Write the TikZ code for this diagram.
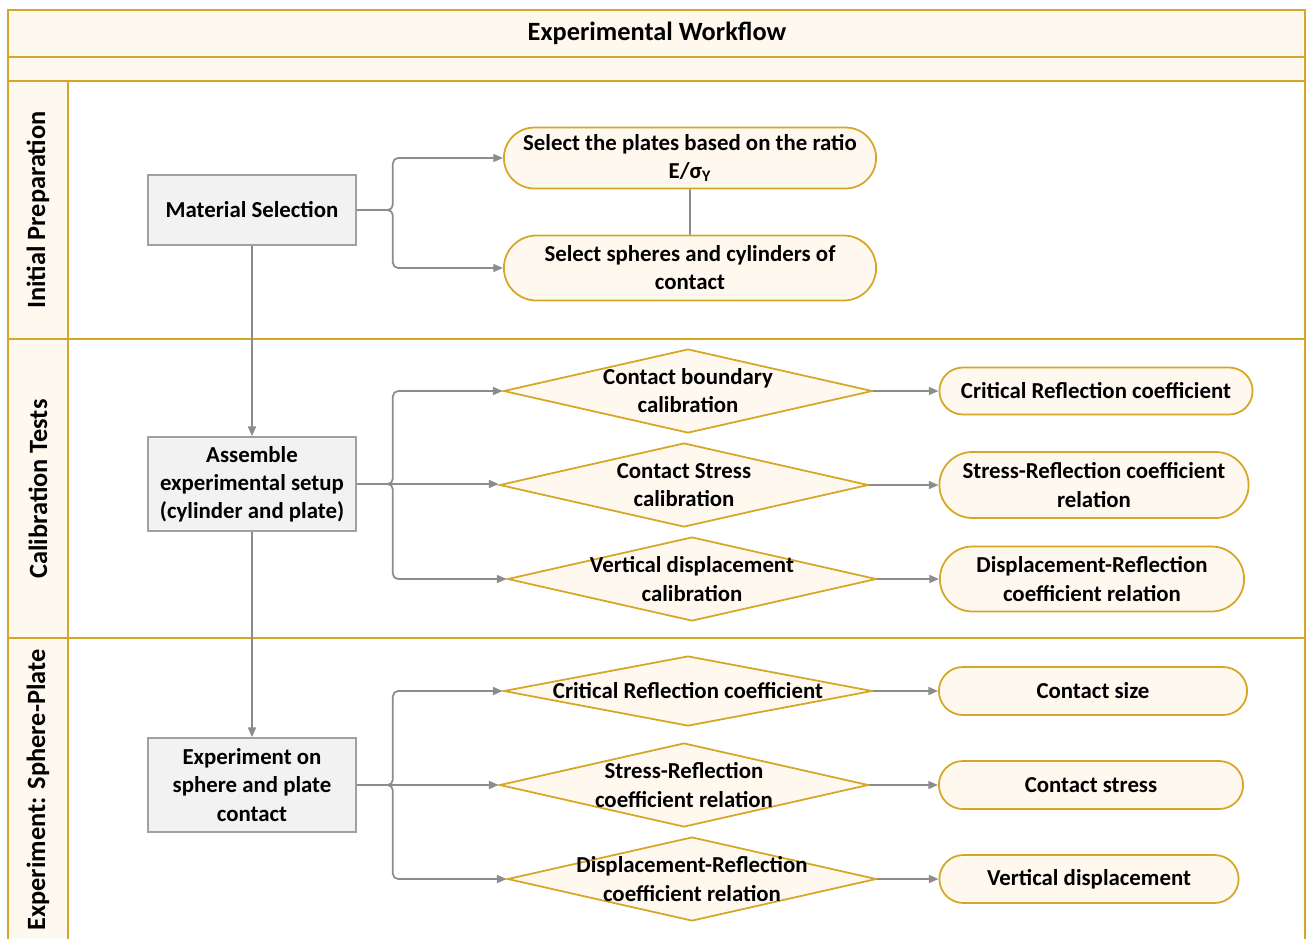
\documentclass[tikz,border=0pt]{standalone}
\usepackage{fontspec}
\setmainfont{Carlito}
\usetikzlibrary{shapes.geometric,shapes.misc,arrows.meta}

\definecolor{lanegold}{RGB}{214,166,38}
\definecolor{lanefill}{RGB}{254,248,239}
\definecolor{boxgray}{RGB}{160,160,160}
\definecolor{boxfill}{RGB}{242,242,242}
\definecolor{linegray}{RGB}{140,140,140}

\tikzset{
  lane/.style={draw=lanegold,line width=1.2pt},
  txt/.style={font=\bfseries\fontsize{13}{16}\selectfont,align=center},
  task/.style={txt,draw=boxgray,fill=boxfill,line width=1pt,minimum width=4.16cm},
  term/.style={txt,rounded rectangle,draw=lanegold,fill=lanefill,line width=1pt},
  check/.style={diamond,draw=lanegold,fill=lanefill,line width=1pt,
    minimum width=7.38cm,minimum height=1.68cm,inner sep=0pt},
  link/.style={draw=linegray,line width=1pt,rounded corners=3pt},
}

\begin{document}
\begin{tikzpicture}[x=0.02cm,y=-0.02cm,>={Triangle[length=5.5pt,width=4.5pt]}]
   \useasboundingbox (0,0) rectangle (1306,938);

   % lanes
   \fill[lanefill] (8,10) rectangle (1305,81);
   \fill[lanefill] (8,81) rectangle (68,938);
   \draw[lane] (8,10) rectangle (1305,57);
   \draw[lane] (8,57) rectangle (1305,81);
   \draw[lane] (8,81) -- (8,940) (68,81) -- (68,940) (1305,81) -- (1305,940);
   \foreach \y in {339,638} {
     \draw[lane] (8,\y) -- (1305,\y);
   }
   \node[font=\bfseries\fontsize{15}{18}\selectfont] (title) at (657,33) {Experimental Workflow};
   \node[font=\bfseries\fontsize{15}{18}\selectfont,rotate=90] (lane1) at (38,210) {Initial Preparation};
   \node[font=\bfseries\fontsize{15}{18}\selectfont,rotate=90] (lane2) at (38,489) {Calibration Tests};
   \node[font=\bfseries\fontsize{15}{18}\selectfont,rotate=90] (lane3) at (38,790) {Experiment: Sphere-Plate};

   % initial preparation
   \node[task,minimum height=1.4cm] (mat) at (252,210) {Material Selection};
   \node[term,minimum width=7.68cm,minimum height=1.22cm] (plates) at (690,158)
     {Select the plates based on the ratio\\E/σ\textsubscript{Y}};
   \node[term,minimum width=7.68cm,minimum height=1.3cm] (spheres) at (690,268)
     {Select spheres and cylinders of\\contact};
   \draw[link,->] (mat.east) -- ++(36,0) |- (plates.west);
   \draw[link,->] (mat.east) -- ++(36,0) |- (spheres.west);
   \draw[link] (plates) -- (spheres);

   % calibration tests
   \node[task,minimum height=1.88cm] (setup) at (252,484)
     {Assemble\\experimental setup\\(cylinder and plate)};
   \node[check,label={[txt]center:Contact boundary\\calibration}] (cal1) at (688,391) {};
   \node[check,label={[txt]center:Contact Stress\\calibration}] (cal2) at (684,485) {};
   \node[check,label={[txt]center:Vertical displacement\\calibration}] (cal3) at (692,579) {};
   \node[term,minimum width=6.5cm,minimum height=0.94cm] (res1) at (1096,391) {Critical Reflection coefficient};
   \node[term,minimum width=6.42cm,minimum height=1.32cm] (res2) at (1094,485) {Stress-Reflection coefficient\\relation};
   \node[term,minimum width=6.32cm,minimum height=1.3cm] (res3) at (1092,579) {Displacement-Reflection\\coefficient relation};
   \draw[link,->] (mat) -- (setup);
   \draw[link,->] (setup.east) -- ++(36,0) |- (cal1.west);
   \draw[link,->] (setup.east) -- (setup.east -| cal2.west);
   \draw[link,->] (setup.east) -- ++(36,0) |- (cal3.west);
   \foreach \i in {1,2,3} {
     \draw[link,->] (cal\i.east) -- (res\i.west);
   }

   % sphere-plate experiment
   \node[task,minimum height=1.88cm] (exp) at (252,785)
     {Experiment on\\sphere and plate\\contact};
   \node[check,minimum height=1.4cm,label={[txt]center:Critical Reflection coefficient}] (chk1) at (688,691) {};
   \node[check,label={[txt]center:Stress-Reflection\\coefficient relation}] (chk2) at (684,785) {};
   \node[check,label={[txt]center:Displacement-Reflection\\coefficient relation}] (chk3) at (692,879) {};
   \node[term,minimum width=6.4cm,minimum height=0.96cm] (out1) at (1093,691) {Contact size};
   \node[term,minimum width=6.32cm,minimum height=0.96cm] (out2) at (1091,785) {Contact stress};
   \node[term,minimum width=6.22cm,minimum height=0.96cm] (out3) at (1089,879) {Vertical displacement};
   \draw[link,->] (setup) -- (exp);
   \draw[link,->] (exp.east) -- ++(36,0) |- (chk1.west);
   \draw[link,->] (exp.east) -- (exp.east -| chk2.west);
   \draw[link,->] (exp.east) -- ++(36,0) |- (chk3.west);
   \foreach \i in {1,2,3} {
     \draw[link,->] (chk\i.east) -- (out\i.west);
   }
\end{tikzpicture}
\end{document}
